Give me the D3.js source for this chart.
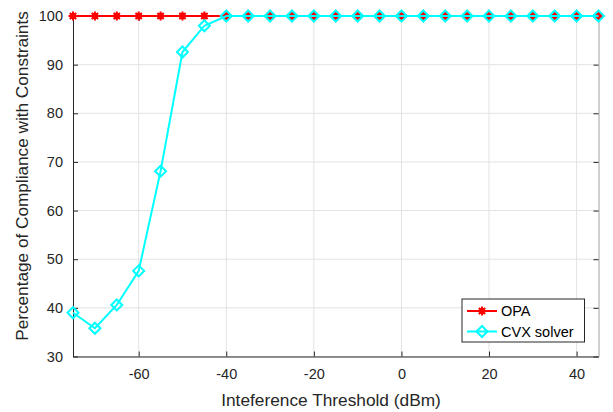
<!DOCTYPE html>
<html><head><meta charset="utf-8">
<script src="https://cdn.jsdelivr.net/npm/d3@7"></script>
<style>body{margin:0;background:#fff}svg{display:block}text{font-family:"Liberation Sans",Arial,sans-serif}</style>
</head><body><svg id="c" width="613" height="412"></svg>
<script>
const thresholds = [-75,-70,-65,-60,-55,-50,-45,-40,-35,-30,-25,-20,-15,-10,-5,0,5,10,15,20,25,30,35,40,45];
const opaValues = [100,100,100,100,100,100,100,100,100,100,100,100,100,100,100,100,100,100,100,100,100,100,100,100,100];
const cvxValues = [39.0,35.8,40.6,47.6,68.1,92.6,98.0,100,100,100,100,100,100,100,100,100,100,100,100,100,100,100,100,100,100];
const xTicks = [-60,-40,-20,0,20,40];
const yTicks = [30,40,50,60,70,80,90,100];
const seriesNames = ["OPA","CVX solver"];

const svg = d3.select("#c");
const L=73, R=598.5, T=16, B=356.5;
const x = d3.scaleLinear().domain([-75,45]).range([L,R]);
const y = d3.scaleLinear().domain([30,100]).range([B,T]);
const axisCol="#262626";

// grid
svg.append("g").selectAll("line").data(xTicks).join("line")
  .attr("x1",d=>x(d)).attr("x2",d=>x(d)).attr("y1",T).attr("y2",B)
  .attr("stroke","#e3e3e3").attr("stroke-width",1);
svg.append("g").selectAll("line").data(yTicks).join("line")
  .attr("y1",d=>y(d)).attr("y2",d=>y(d)).attr("x1",L).attr("x2",R)
  .attr("stroke","#e3e3e3").attr("stroke-width",1);

// axes
const gx = svg.append("g").attr("transform",`translate(0,${B})`)
  .call(d3.axisBottom(x).tickValues(xTicks).tickSizeInner(-5).tickSizeOuter(0).tickPadding(12));
const gxt = svg.append("g").attr("transform",`translate(0,${T})`)
  .call(d3.axisTop(x).tickValues(xTicks).tickSizeInner(-5).tickSizeOuter(0).tickFormat(""));
const gy = svg.append("g").attr("transform",`translate(${L},0)`)
  .call(d3.axisLeft(y).tickValues(yTicks).tickSizeInner(-5).tickSizeOuter(0).tickPadding(10));
const gyr = svg.append("g").attr("transform",`translate(${R},0)`)
  .call(d3.axisRight(y).tickValues(yTicks).tickSizeInner(-5).tickSizeOuter(0).tickFormat(""));
[gx,gxt,gy,gyr].forEach(g=>{
  g.selectAll("path").attr("stroke",axisCol).attr("stroke-width",1);
  g.selectAll("line").attr("stroke",axisCol);
  g.selectAll("text").attr("fill",axisCol).style("font-size","14.5px");
});
gx.selectAll("text").text(d=>d<0?"-"+Math.abs(d):d);
gyr.select("path").attr("stroke","#a0a0a0");

// labels
svg.append("text").attr("x",331).attr("y",406).attr("text-anchor","middle")
  .attr("fill",axisCol).style("font-size","17.3px").text("Inteference Threshold (dBm)");
svg.append("text").attr("transform",`translate(28,176) rotate(-90)`).attr("text-anchor","middle")
  .attr("fill",axisCol).style("font-size","17.2px").text("Percentage of Compliance with Constraints");

const line = d3.line().x(d=>x(d[0])).y(d=>y(d[1]));
const opa = thresholds.map((t,i)=>[t,opaValues[i]]);
const cvx = thresholds.map((t,i)=>[t,cvxValues[i]]);

function starMarker(g, px, py, col){
  const s=4.5;
  const gg=g.append("g").attr("transform",`translate(${px},${py})`);
  gg.append("circle").attr("r",3.3).attr("fill",col);
  [[-s,0,s,0],[0,-s,0,s],[-s*0.7,-s*0.7,s*0.7,s*0.7],[-s*0.7,s*0.7,s*0.7,-s*0.7]].forEach(a=>
    gg.append("line").attr("x1",a[0]).attr("y1",a[1]).attr("x2",a[2]).attr("y2",a[3]).attr("stroke",col).attr("stroke-width",2));
}
function diamondMarker(g, px, py, col){
  const s=5.5;
  g.append("path").attr("d",`M${px},${py-s}L${px+s},${py}L${px},${py+s}L${px-s},${py}Z`)
    .attr("fill","none").attr("stroke",col).attr("stroke-width",2);
}

svg.append("path").datum(opa).attr("d",line).attr("fill","none").attr("stroke","#ff0000").attr("stroke-width",2);
const gOpa=svg.append("g");
opa.forEach(d=>starMarker(gOpa,x(d[0]),y(d[1]),"#ff0000"));
svg.append("path").datum(cvx).attr("d",line).attr("fill","none").attr("stroke","#00ffff").attr("stroke-width",2);
const gCvx=svg.append("g");
cvx.forEach(d=>diamondMarker(gCvx,x(d[0]),y(d[1]),"#00ffff"));

// legend
const lg=svg.append("g");
lg.append("rect").attr("x",462).attr("y",299).attr("width",122.5).attr("height",43)
  .attr("fill","#fff").attr("stroke",axisCol).attr("stroke-width",1);
const ly=[311,331.5];
const cols=["#ff0000","#00ffff"];
seriesNames.forEach((n,i)=>{
  lg.append("line").attr("x1",467).attr("x2",497).attr("y1",ly[i]).attr("y2",ly[i]).attr("stroke",cols[i]).attr("stroke-width",2);
  if(i===0) starMarker(lg,482,ly[i],cols[i]); else diamondMarker(lg,482,ly[i],cols[i]);
  lg.append("text").attr("x",501).attr("y",ly[i]+5).attr("fill","#000").style("font-size","14.5px").text(n);
});
</script></body></html>
